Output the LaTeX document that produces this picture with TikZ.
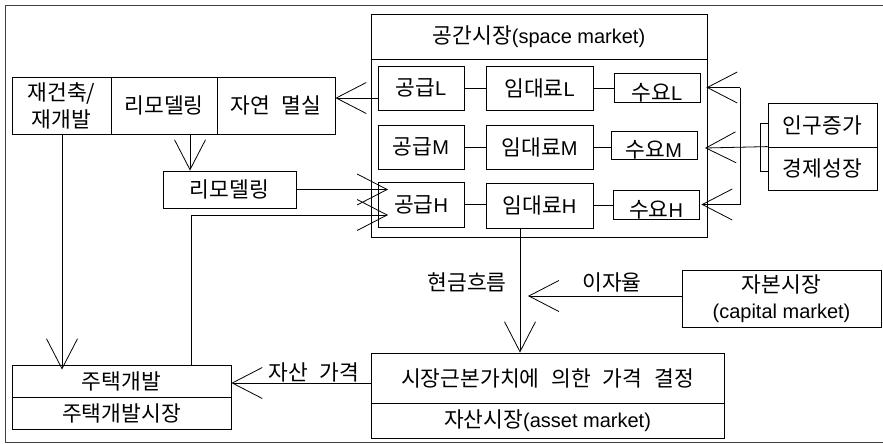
\documentclass[tikz,border=0pt]{standalone}
\usepackage{fontspec}
\setmainfont{Noto Sans CJK KR}[WordSpace=2]
\newfontfamily\lat{Liberation Sans}[Scale=0.93]
\usetikzlibrary{arrows.meta}
\tikzset{
  box/.style={draw, inner sep=0pt, line width=0.8pt, align=center},
  conn/.style={line width=0.8pt},
  arr/.style={line width=0.8pt, -{Straight Barb[length=30pt,width=31pt,line width=0.8pt]}},
  lbl/.style={inner sep=0pt},
  every node/.style={font=\fontsize{21.5}{27}\selectfont}
}
\newcommand{\gap}{\hspace{0.55em}}
\begin{document}
\begin{tikzpicture}[x=1pt,y=-1pt]
\useasboundingbox (0,0) rectangle (883,444);
% frame
\draw[line width=0.9pt, black!75] (883,5) -- (5,5) -- (5,442) -- (883,442);

% space market
\node[box, minimum width=336pt, minimum height=223pt] (space) at (539,125.5) {};
\coordinate (sdiv) at (0,59);
\draw[conn] (space.west |- sdiv) -- (space.east |- sdiv);
\node[lbl] (stitle) at (539,37) {공간시장{\lat(space market)}};

\node[box, minimum width=86pt, minimum height=44pt] (supL) at (421,88) {공급{\lat L}};
\node[box, minimum width=107pt, minimum height=44pt] (rentL) at (539.5,88) {임대료{\lat L}};
\node[box, minimum width=86pt, minimum height=29pt] (demL) at (657,87.5) {};
\node[lbl] (demLt) at (657,92.5) {수요{\lat L}};

\node[box, minimum width=86pt, minimum height=44pt] (supM) at (421,147) {공급{\lat M}};
\node[box, minimum width=107pt, minimum height=44pt] (rentM) at (539.5,147) {임대료{\lat M}};
\node[box, minimum width=86pt, minimum height=28pt] (demM) at (654,145) {};
\node[lbl] (demMt) at (654,150) {수요{\lat M}};

\node[box, minimum width=86pt, minimum height=45pt] (supH) at (421,204.5) {공급{\lat H}};
\node[box, minimum width=107pt, minimum height=45pt] (rentH) at (539.5,205.5) {임대료{\lat H}};
\node[box, minimum width=86pt, minimum height=29pt] (demH) at (656,204.5) {};
\node[lbl] (demHt) at (656,209.5) {수요{\lat H}};

\draw[conn] (supL.east) -- (rentL.west);
\draw[conn] (rentL.east) -- (rentL.east -| demL.west);
\draw[conn] (supM.east) -- (rentM.west);
\draw[conn] (rentM.east) -- (rentM.east -| demM.west);
\draw[conn] (supH.east) -- (supH.east -| rentH.west);
\draw[conn] (rentH.east) -- (rentH.east -| demH.west);

% left group
\node[box, minimum width=99pt, minimum height=57pt] (reb) at (61.5,105.5) {재건축/\\재개발};
\node[box, minimum width=106pt, minimum height=57pt] (remod1) at (164,105.5) {리모델링};
\node[box, minimum width=118pt, minimum height=57pt] (decay) at (276,105.5) {자연\gap 멸실};
\node[box, minimum width=133pt, minimum height=37pt] (remod2) at (229.5,189.5) {리모델링};

% housing development
\node[box, minimum width=219pt, minimum height=32pt] (house) at (121.5,381) {주택개발};
\node[box, minimum width=219pt, minimum height=32pt] (housem) at (121.5,413) {주택개발시장};

% asset market
\node[box, minimum width=353pt, minimum height=50pt] (asset) at (547.5,378) {시장근본가치에\gap 의한\gap 가격\gap 결정};
\node[box, minimum width=353pt, minimum height=35pt] (assetm) at (547.5,420.5) {자산시장{\lat(asset market)}};

% capital market
\node[box, minimum width=199pt, minimum height=57pt] (cap) at (781.5,298.5) {자본시장\\[-1pt]{\lat (capital market)}};

% population / economy
\node[box, minimum width=109pt, minimum height=44pt] (pop) at (822.5,125) {인구증가};
\node[box, minimum width=109pt, minimum height=43pt] (econ) at (822.5,168.5) {경제성장};
\draw[line width=1.6pt] (pop.south west) -- (pop.south east);

% coordinates
\coordinate (xa) at (190,0);
\coordinate (xb) at (191,0);
\coordinate (xc) at (62,0);
\coordinate (tipA) at (388,189.5);
\coordinate (tipB) at (388,215);
\coordinate (yd) at (0,98);
\coordinate (ya) at (0,383);
\coordinate (xr) at (520,0);
\coordinate (tipI) at (528,296);
\coordinate (v1) at (740,0);
\coordinate (br1) at (760,123);
\coordinate (br2) at (760,171);
\coordinate (tipM) at (705,148);

% connectors
\draw[arr] (supL.west |- yd) -- (decay.east |- yd);
\draw[arr] (remod1.south -| xa) -- (remod2.north -| xa);
\draw[arr] (remod2.east) -- (tipA);
\draw[arr] (house.north -| xb) |- (tipB);
\draw[arr] (reb.south -| xc) -- ([yshift=-5pt]house.north -| xc);
\draw[arr] (asset.west |- ya) -- (house.east |- ya);
\node[lbl] (lprice) at (314,372) {자산\gap 가격};
\draw[arr] (rentH.south -| xr) -- (asset.north -| xr);
\node[lbl] (lcash) at (467,282) {현금흐름};
\draw[arr] (cap.west |- tipI) -- (tipI);
\node[lbl] (lint) at (612,282) {이자율};

% demand drivers
\draw[conn] (pop.west |- br1) -- (br1) -- (br2) -- (econ.west |- br2);
\draw[arr] (econ.north west) -- (tipM);
\draw[conn] (v1 |- demL.east) -- (v1 |- demH.east);
\draw[arr] (v1 |- demL.east) -- ([xshift=6pt]demL.east);
\draw[arr] (v1 |- demH.east) -- ([xshift=2pt]demH.east);
\end{tikzpicture}
\end{document}
